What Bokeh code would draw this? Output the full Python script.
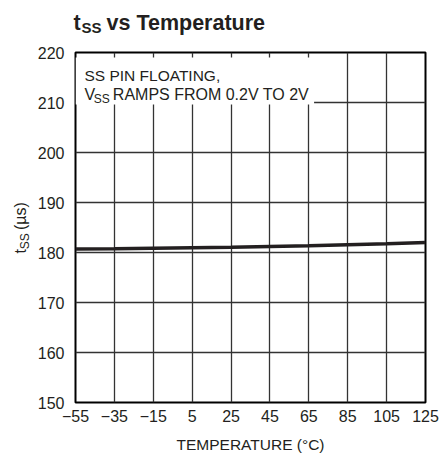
import math
from bokeh.plotting import figure
from bokeh.layouts import column, row
from bokeh.models import FixedTicker, Label, Range1d
from bokeh.core.properties import value
from bokeh.embed import file_html
from bokeh.resources import INLINE

# ---- data ----
temperature = [-55, -35, -15, 5, 25, 45, 65, 85, 105, 125]
tss_us = [180.7, 180.75, 180.85, 180.95, 181.05, 181.2, 181.35, 181.55, 181.75, 182.0]

x_ticks = [-55, -35, -15, 5, 25, 45, 65, 85, 105, 125]
x_tick_labels = ["\u221255", "\u221235", "\u221215", "5", "25", "45", "65", "85", "105", "125"]
y_ticks = [150, 160, 170, 180, 190, 200, 210, 220]
y_tick_labels = ["150", "160", "170", "180", "190", "200", "210", "220"]

FONT = "Liberation Sans"
INK = "#231f20"

TITLE_H = 42
YLAB_W = 34


def blank(x0, x1, y0, y1):
    """Helper canvas: x in page pixels, y = minus page pixels (so y rises upwards)."""
    f = figure(width=x1 - x0, height=y1 - y0, output_backend="svg", toolbar_location=None,
               x_axis_type=None, y_axis_type=None,
               x_range=Range1d(x0, x1), y_range=Range1d(-y1, -y0), min_border=0)
    f.title = None
    f.grid.visible = False
    f.outline_line_color = None
    f.background_fill_color = "white"
    f.border_fill_color = "white"
    return f


def txt(f, x, y, text, size, style="normal", angle=0.0):
    f.text(x=[x], y=[-y], text=[text], text_font=value(FONT), text_font_size=value(size),
           text_font_style=value(style), text_color=INK, text_baseline="alphabetic",
           text_align="left", angle=angle)


# ---- title strip ----
title_fig = blank(0, 442, 0, TITLE_H)
txt(title_fig, 73, 22, "t", "21.5px", "bold")
txt(title_fig, 81, 27, "SS", "15px", "bold")
txt(title_fig, 106, 22, "vs Temperature", "21.5px", "bold")

# ---- y label strip ----
ylab_fig = blank(0, YLAB_W, TITLE_H, 460)
txt(ylab_fig, 20, 282, "t", "16px", angle=math.pi / 2)
txt(ylab_fig, 24.5, 277, "SS", "12px", angle=math.pi / 2)
txt(ylab_fig, 20, 254, "(\u00b5s)", "16px", angle=math.pi / 2)

# ---- main chart ----
p = figure(width=442 - YLAB_W, height=460 - TITLE_H, output_backend="svg", toolbar_location=None,
           x_range=Range1d(-55, 125), y_range=Range1d(150, 220),
           min_border_left=73 - YLAB_W, min_border_right=17,
           min_border_top=52 - TITLE_H, min_border_bottom=58)
p.title = None
p.background_fill_color = "white"
p.border_fill_color = "white"
p.outline_line_color = "black"
p.outline_line_width = 2

for ax in (p.xaxis[0], p.yaxis[0]):
    ax.axis_line_color = None
    ax.major_tick_line_color = None
    ax.minor_tick_line_color = None
    ax.major_tick_out = 0
    ax.major_tick_in = 0
    ax.major_label_text_font = FONT
    ax.major_label_text_font_size = "16px"
    ax.major_label_text_color = INK

p.xaxis.ticker = FixedTicker(ticks=x_ticks)
p.xaxis.major_label_overrides = dict(zip(x_ticks, x_tick_labels))
p.xaxis.major_label_standoff = 7
p.xaxis.axis_label = "TEMPERATURE (\u00b0C)"
p.xaxis.axis_label_text_font = FONT
p.xaxis.axis_label_text_font_size = "15.5px"
p.xaxis.axis_label_text_font_style = "normal"
p.xaxis.axis_label_text_color = INK
p.xaxis.axis_label_standoff = 11

p.yaxis.ticker = FixedTicker(ticks=y_ticks)
p.yaxis.major_label_overrides = dict(zip(y_ticks, y_tick_labels))
p.yaxis.major_label_standoff = 11

p.xgrid.ticker = FixedTicker(ticks=x_ticks)
p.ygrid.ticker = FixedTicker(ticks=y_ticks)
for g in (p.xgrid[0], p.ygrid[0]):
    g.grid_line_color = "#333333"
    g.grid_line_width = 1.3
    g.grid_line_alpha = 1.0

# white box behind the note
p.quad(left=[-55], right=[67.7], bottom=[209.6], top=[219], fill_color="white",
       line_color=None)

# curve
p.line(temperature, tss_us, line_color=INK, line_width=3.6)


def lab(x, y, text, size, style="normal"):
    p.add_layout(Label(x=x, y=y, text=text, text_font=FONT, text_font_size=size,
                       text_font_style=style, text_color=INK, text_baseline="alphabetic",
                       text_align="left"))


# note in the box
lab(-50.4, 215.4, "SS PIN FLOATING,", "15.5px")
lab(-50.4, 211.6, "V", "16px")
lab(-45.6, 210.8, "SS", "12px")
lab(-35.8, 211.6, "RAMPS FROM 0.2V TO 2V", "16px")

layout = column(title_fig, row(ylab_fig, p, spacing=0), spacing=0)

open("out.html", "w").write(file_html(layout, INLINE))
